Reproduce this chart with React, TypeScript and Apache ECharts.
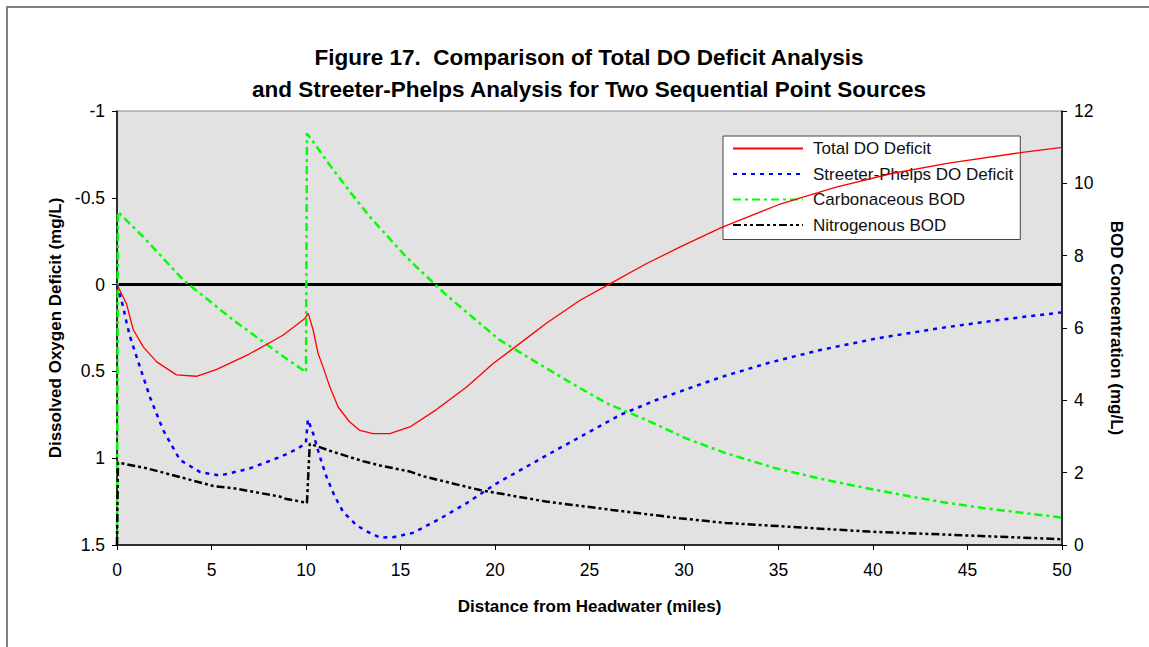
import React, { useEffect, useRef } from "react";
import * as echarts from "echarts";

const TITLE_LINE_1 = "Figure 17.  Comparison of Total DO Deficit Analysis";
const TITLE_LINE_2 = "and Streeter-Phelps Analysis for Two Sequential Point Sources";
const X_NAME = "Distance from Headwater (miles)";
const LEFT_NAME = "Dissolved Oxygen Deficit (mg/L)";
const RIGHT_NAME = "BOD Concentration (mg/L)";
const SERIES_NAMES = ["Total DO Deficit", "Streeter-Phelps DO Deficit", "Carbonaceous BOD", "Nitrogenous BOD"];

// Total DO deficit (left axis, mg/L)
const totalX = [0, 0.5, 0.86, 1.4, 2.1, 3.15, 4.2, 5.25, 7.0, 8.8, 9.94, 10.12, 10.38, 10.64, 10.9, 11.26, 11.7, 12.3, 12.85, 13.55, 14.43, 15.5, 16.9, 18.5, 19.9, 21.3, 22.7, 24.5, 26.1, 28.0, 29.8, 32.0, 35, 38, 41, 44, 47.8, 50];
const totalY = [0, 0.11, 0.26, 0.36, 0.445, 0.52, 0.528, 0.49, 0.4, 0.29, 0.195, 0.166, 0.263, 0.397, 0.474, 0.589, 0.705, 0.79, 0.84, 0.858, 0.858, 0.82, 0.72, 0.59, 0.455, 0.34, 0.224, 0.09, -0.006, -0.12, -0.217, -0.33, -0.46, -0.56, -0.64, -0.7, -0.76, -0.79];

// Streeter-Phelps DO deficit (left axis, mg/L)
const spX = [0, 0.33, 0.51, 0.69, 1.2, 1.75, 2.45, 3.33, 4.4, 5.45, 7.0, 8.7, 9.4, 9.99, 10.1, 10.38, 10.73, 11.08, 11.52, 11.97, 12.67, 13.2, 13.9, 14.6, 15.66, 17.07, 18.48, 20.07, 21.65, 23.2, 25.0, 26.6, 28.5, 30.46, 32.05, 34.5, 37.2, 40.2, 43.4, 46.9, 50];
const spY = [0, 0.13, 0.22, 0.3, 0.47, 0.65, 0.84, 1.01, 1.08, 1.1, 1.06, 0.99, 0.954, 0.915, 0.777, 0.858, 0.99, 1.106, 1.22, 1.31, 1.386, 1.42, 1.457, 1.455, 1.43, 1.35, 1.26, 1.146, 1.05, 0.955, 0.848, 0.752, 0.666, 0.59, 0.53, 0.45, 0.377, 0.31, 0.253, 0.2, 0.16];

// Carbonaceous BOD (right axis, mg/L)
const cbodX = [0, 0.05, 1.39, 3.5, 6.15, 8.8, 10.0, 10.05, 10.38, 11.26, 12.4, 13.37, 14.25, 15.3, 15.84, 17.43, 20.24, 22.0, 23.77, 25.9, 28.0, 30.1, 32.2, 34.87, 37.5, 40.15, 43.5, 46.0, 50];
const cbodY = [0, 9.21, 8.52, 7.33, 6.22, 5.21, 4.78, 11.38, 11.15, 10.5, 9.72, 9.08, 8.57, 7.97, 7.69, 6.91, 5.67, 5.11, 4.56, 3.92, 3.46, 2.95, 2.54, 2.12, 1.8, 1.52, 1.2, 1.01, 0.76];

// Nitrogenous BOD (right axis, mg/L)
const nbodX = [0, 0.05, 1.57, 2.6, 5.1, 6.15, 8.6, 8.97, 9.94, 10.05, 10.2, 11.3, 12.2, 13.0, 13.9, 15.5, 16.2, 19.2, 22.7, 26.2, 29.75, 32.2, 35.4, 39.8, 44.2, 50];
const nbodY = [0, 2.28, 2.12, 1.98, 1.63, 1.57, 1.34, 1.27, 1.18, 1.16, 2.8, 2.6, 2.45, 2.32, 2.2, 2.03, 1.9, 1.52, 1.2, 0.97, 0.74, 0.61, 0.51, 0.37, 0.28, 0.16];

const zeroLineX = [0, 50];
const zeroLineY = [0, 0];

const FONT = "'Liberation Sans', Arial, sans-serif";

const pairs = (xs: number[], ys: number[]) => xs.map((x, i) => [x, ys[i]]);

export default function App() {
  const ref = useRef<HTMLDivElement>(null);

  useEffect(() => {
    if (!ref.current) return;
    const chart = echarts.init(ref.current, undefined, { renderer: "svg" });
    const axisLabel = { fontSize: 17.5, color: "#000", fontFamily: FONT };
    const nameStyle = { fontSize: 17, fontWeight: "bold" as const, color: "#000", fontFamily: FONT };
    chart.setOption({
      animation: false,
      backgroundColor: "#fff",
      textStyle: { fontFamily: FONT },
      title: {
        text: TITLE_LINE_1 + "\n" + TITLE_LINE_2,
        left: 584,
        top: 36,
        textAlign: "center",
        textStyle: { fontSize: 22.5, fontWeight: "bold", color: "#000", lineHeight: 32, fontFamily: FONT },
      },
      graphic: [
        {
          type: "rect",
          shape: { x: 7, y: 7, width: 1200, height: 700 },
          style: { fill: "none", stroke: "#808080", lineWidth: 2 },
          silent: true,
        },
      ],
      legend: {
        orient: "vertical",
        left: 723,
        top: 136,
        data: SERIES_NAMES,
        itemWidth: 70,
        itemHeight: 14,
        itemGap: 8.5,
        padding: [4, 7, 6, 9],
        backgroundColor: "#fff",
        borderColor: "#444",
        borderWidth: 1,
        itemStyle: { opacity: 0 },
        textStyle: { fontSize: 17, color: "#111", fontFamily: FONT, padding: [0, 0, 0, 5] },
      },
      grid: {
        left: 117,
        right: 87,
        top: 111,
        bottom: 102,
        show: true,
        backgroundColor: "#e2e2e2",
        borderColor: "#888",
        borderWidth: 1,
      },
      xAxis: {
        type: "value",
        min: 0,
        max: 50,
        interval: 5,
        name: X_NAME,
        nameLocation: "middle",
        nameGap: 53,
        nameTextStyle: nameStyle,
        axisLine: { show: true, onZero: false, lineStyle: { color: "#000", width: 1.5 } },
        axisTick: { show: true, inside: false, length: 5, lineStyle: { color: "#000" } },
        axisLabel: { ...axisLabel, margin: 16 },
        splitLine: { show: false },
      },
      yAxis: [
        {
          type: "value",
          inverse: true,
          min: -1,
          max: 1.5,
          interval: 0.5,
          position: "left",
          name: LEFT_NAME,
          nameLocation: "middle",
          nameGap: 41,
          nameTextStyle: nameStyle,
          axisLine: { show: true, onZero: false, lineStyle: { color: "#000", width: 1.5 } },
          axisTick: { show: true, inside: false, length: 5, lineStyle: { color: "#000" } },
          axisLabel: { ...axisLabel, margin: 12 },
          splitLine: { show: false },
        },
        {
          type: "value",
          min: 0,
          max: 12,
          interval: 2,
          position: "right",
          name: RIGHT_NAME,
          nameLocation: "middle",
          nameRotate: -90,
          nameGap: 46,
          nameTextStyle: nameStyle,
          axisLine: { show: true, onZero: false, lineStyle: { color: "#000", width: 1.5 } },
          axisTick: { show: true, inside: false, length: 5, lineStyle: { color: "#000" } },
          axisLabel: { ...axisLabel, margin: 12 },
          splitLine: { show: false },
        },
      ],
      series: [
        {
          name: "zero",
          type: "line",
          yAxisIndex: 0,
          data: pairs(zeroLineX, zeroLineY),
          showSymbol: false,
          symbol: "none",
          silent: true,
          z: 1,
          lineStyle: { color: "#000", width: 3 },
        },
        {
          name: SERIES_NAMES[0],
          type: "line",
          yAxisIndex: 0,
          data: pairs(totalX, totalY),
          symbol: "none",
          showSymbol: false,
          z: 5,
          lineStyle: { color: "#ff0000", width: 1.3, type: "solid" },
          itemStyle: { color: "#ff0000" },
        },
        {
          name: SERIES_NAMES[1],
          type: "line",
          yAxisIndex: 0,
          data: pairs(spX, spY),
          symbol: "none",
          showSymbol: false,
          z: 4,
          lineStyle: { color: "#0000ff", width: 2.5, type: [4, 5] },
          itemStyle: { color: "#0000ff" },
        },
        {
          name: SERIES_NAMES[2],
          type: "line",
          yAxisIndex: 1,
          data: pairs(cbodX, cbodY),
          symbol: "none",
          showSymbol: false,
          z: 3,
          lineStyle: { color: "#00ff00", width: 2.5, type: [8, 4, 3, 4] },
          itemStyle: { color: "#00ff00" },
        },
        {
          name: SERIES_NAMES[3],
          type: "line",
          yAxisIndex: 1,
          data: pairs(nbodX, nbodY),
          symbol: "none",
          showSymbol: false,
          z: 3,
          lineStyle: { color: "#000", width: 2.5, type: [8, 3, 3, 3, 3, 3] },
          itemStyle: { color: "#000" },
        },
      ],
    });
    return () => chart.dispose();
  }, []);

  return (
    <div
      ref={ref}
      style={{ position: "fixed", left: 0, top: 0, width: 1149, height: 647, background: "#fff" }}
    />
  );
}
